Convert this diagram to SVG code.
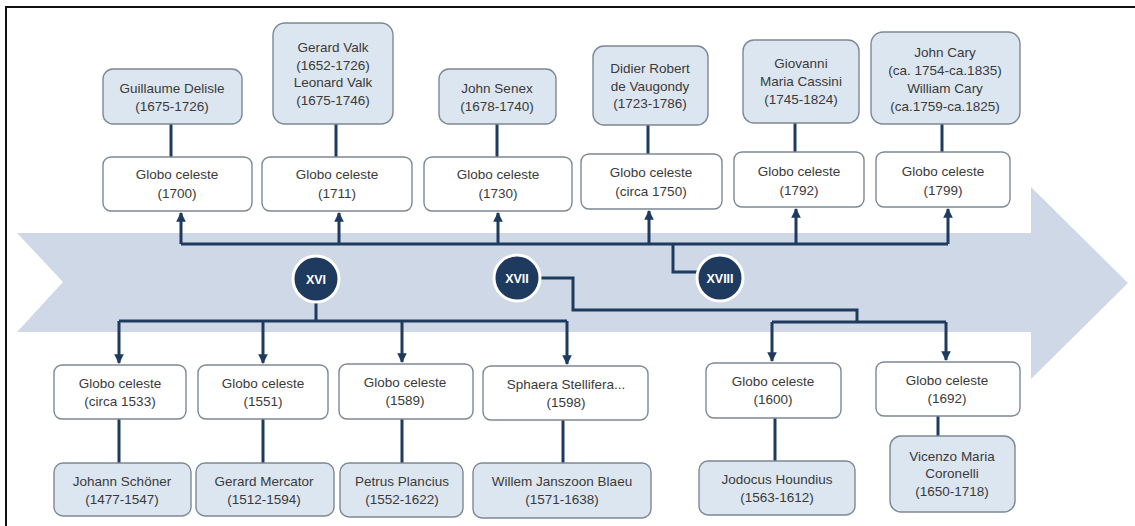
<svg xmlns="http://www.w3.org/2000/svg" width="1135" height="526" viewBox="0 0 1135 526">
<defs>
<style>
.bg{fill:#ffffff}
.band{fill:#cfd8e6}
.frame{stroke:#111;stroke-width:2;fill:none}
.p{fill:#dce6f1;stroke:#7d8894;stroke-width:1.4}
.g{fill:#ffffff;stroke:#7d8894;stroke-width:1.4}
.t{font-family:"Liberation Sans",Arial,sans-serif;font-size:13.5px;fill:#3a3a3a;text-anchor:middle}
.c{fill:#1f3a5f;stroke:#ffffff;stroke-width:3}
.ct{font-family:"Liberation Sans",Arial,sans-serif;font-size:12.5px;font-weight:bold;fill:#ffffff;text-anchor:middle}
.ln{stroke:#1f3a5f;stroke-width:3;fill:none}
</style>
<marker id="ah" viewBox="0 0 10 10" refX="9" refY="5" markerWidth="3.2" markerHeight="3.2" orient="auto" markerUnits="strokeWidth">
<path d="M0,0 L10,5 L0,10 z" fill="#1f3a5f"/>
</marker>
</defs>
<rect class="bg" x="0" y="0" width="1135" height="526"/>
<path class="frame" d="M6,526 V7 H1135"/>
<path class="band" d="M17,233 H1031 V187 L1128,283 L1031,379 V332 H17 L63,282 Z"/>

<g id="connectors">
<path class="ln" d="M181,244 H948"/>
<path class="ln" d="M181,244 V213" marker-end="url(#ah)"/>
<path class="ln" d="M339,244 V213" marker-end="url(#ah)"/>
<path class="ln" d="M498,244 V213" marker-end="url(#ah)"/>
<path class="ln" d="M649,244 V211" marker-end="url(#ah)"/>
<path class="ln" d="M796,244 V209" marker-end="url(#ah)"/>
<path class="ln" d="M948,244 V209" marker-end="url(#ah)"/>
<path class="ln" d="M171,124 V157"/>
<path class="ln" d="M336,124 V157"/>
<path class="ln" d="M497,124 V157"/>
<path class="ln" d="M648,125 V154"/>
<path class="ln" d="M795,123 V152"/>
<path class="ln" d="M942,124 V152"/>
<path class="ln" d="M673,244 V272 H698"/>
<path class="ln" d="M316,301 V321"/>
<path class="ln" d="M119,321 H567"/>
<path class="ln" d="M119,321 V363" marker-end="url(#ah)"/>
<path class="ln" d="M263,321 V363" marker-end="url(#ah)"/>
<path class="ln" d="M402,321 V362" marker-end="url(#ah)"/>
<path class="ln" d="M567,321 V364" marker-end="url(#ah)"/>
<path class="ln" d="M539,278 H573 V310 H857 V322"/>
<path class="ln" d="M772,322 H946"/>
<path class="ln" d="M772,322 V361" marker-end="url(#ah)"/>
<path class="ln" d="M946,322 V360" marker-end="url(#ah)"/>
<path class="ln" d="M119,419 V463"/>
<path class="ln" d="M263,419 V463"/>
<path class="ln" d="M402,419 V463"/>
<path class="ln" d="M563,420 V463"/>
<path class="ln" d="M775,418 V461"/>
<path class="ln" d="M938,416 V436"/>
</g>

<g id="c16"><circle class="c" cx="316" cy="279" r="23"/><text class="ct" x="316" y="284">XVI</text></g>
<g id="c17"><circle class="c" cx="517" cy="278" r="23"/><text class="ct" x="517" y="283">XVII</text></g>
<g id="c18"><circle class="c" cx="720" cy="278" r="23"/><text class="ct" x="720" y="283">XVIII</text></g>

<g id="p1"><rect class="p" x="103" y="69" width="139" height="55" rx="10"/><text class="t" x="172" y="93">Guillaume  Delisle</text><text class="t" x="172" y="111">(1675-1726)</text></g>
<g id="p2"><rect class="p" x="273" y="23" width="120" height="101" rx="12"/><text class="t" x="333" y="52">Gerard Valk</text><text class="t" x="333" y="70">(1652-1726)</text><text class="t" x="333" y="87">Leonard Valk</text><text class="t" x="333" y="105">(1675-1746)</text></g>
<g id="p3"><rect class="p" x="439" y="69" width="117" height="55" rx="10"/><text class="t" x="497" y="93">John Senex</text><text class="t" x="497" y="111">(1678-1740)</text></g>
<g id="p4"><rect class="p" x="593" y="46" width="115" height="79" rx="11"/><text class="t" x="650" y="73">Didier Robert</text><text class="t" x="650" y="91">de Vaugondy</text><text class="t" x="650" y="108">(1723-1786)</text></g>
<g id="p5"><rect class="p" x="743" y="40" width="116" height="83" rx="11"/><text class="t" x="801" y="68">Giovanni</text><text class="t" x="801" y="86">Maria Cassini</text><text class="t" x="801" y="104">(1745-1824)</text></g>
<g id="p6"><rect class="p" x="871" y="32" width="149" height="92" rx="12"/><text class="t" x="945" y="57">John Cary</text><text class="t" x="945" y="75">(ca. 1754-ca.1835)</text><text class="t" x="945" y="93">William  Cary</text><text class="t" x="945" y="111">(ca.1759-ca.1825)</text></g>

<g id="g1"><rect class="g" x="103" y="157" width="149" height="54" rx="8"/><text class="t" x="177" y="179">Globo celeste</text><text class="t" x="177" y="198">(1700)</text></g>
<g id="g2"><rect class="g" x="262" y="157" width="150" height="54" rx="8"/><text class="t" x="337" y="179">Globo celeste</text><text class="t" x="337" y="198">(1711)</text></g>
<g id="g3"><rect class="g" x="424" y="157" width="148" height="54" rx="8"/><text class="t" x="498" y="179">Globo celeste</text><text class="t" x="498" y="198">(1730)</text></g>
<g id="g4"><rect class="g" x="581" y="154" width="141" height="55" rx="8"/><text class="t" x="651" y="177">Globo celeste</text><text class="t" x="651" y="196">(circa 1750)</text></g>
<g id="g5"><rect class="g" x="734" y="152" width="130" height="55" rx="8"/><text class="t" x="799" y="176">Globo celeste</text><text class="t" x="799" y="195">(1792)</text></g>
<g id="g6"><rect class="g" x="876" y="152" width="134" height="55" rx="8"/><text class="t" x="943" y="176">Globo celeste</text><text class="t" x="943" y="195">(1799)</text></g>

<g id="b1"><rect class="g" x="54" y="365" width="132" height="54" rx="8"/><text class="t" x="120" y="388">Globo celeste</text><text class="t" x="120" y="406">(circa 1533)</text></g>
<g id="b2"><rect class="g" x="198" y="365" width="130" height="54" rx="8"/><text class="t" x="263" y="388">Globo celeste</text><text class="t" x="263" y="406">(1551)</text></g>
<g id="b3"><rect class="g" x="339" y="364" width="134" height="55" rx="8"/><text class="t" x="405" y="387">Globo celeste</text><text class="t" x="405" y="405">(1589)</text></g>
<g id="b4"><rect class="g" x="483" y="366" width="165" height="54" rx="8"/><text class="t" x="566" y="389">Sphaera Stellifera...</text><text class="t" x="566" y="407">(1598)</text></g>
<g id="b5"><rect class="g" x="706" y="363" width="135" height="55" rx="8"/><text class="t" x="773" y="386">Globo celeste</text><text class="t" x="773" y="404">(1600)</text></g>
<g id="b6"><rect class="g" x="876" y="362" width="144" height="54" rx="8"/><text class="t" x="947" y="385">Globo celeste</text><text class="t" x="947" y="403">(1692)</text></g>

<g id="q1"><rect class="p" x="54" y="463" width="137" height="53" rx="9"/><text class="t" x="122" y="486">Johann Schöner</text><text class="t" x="122" y="504">(1477-1547)</text></g>
<g id="q2"><rect class="p" x="196" y="463" width="138" height="53" rx="9"/><text class="t" x="264" y="486">Gerard Mercator</text><text class="t" x="264" y="504">(1512-1594)</text></g>
<g id="q3"><rect class="p" x="340" y="463" width="123" height="54" rx="9"/><text class="t" x="402" y="486">Petrus Plancius</text><text class="t" x="402" y="504">(1552-1622)</text></g>
<g id="q4"><rect class="p" x="473" y="463" width="178" height="55" rx="9"/><text class="t" x="562" y="486">Willem Janszoon Blaeu</text><text class="t" x="562" y="504">(1571-1638)</text></g>
<g id="q5"><rect class="p" x="699" y="461" width="156" height="54" rx="9"/><text class="t" x="777" y="484">Jodocus  Houndius</text><text class="t" x="777" y="502">(1563-1612)</text></g>
<g id="q6"><rect class="p" x="890" y="436" width="125" height="76" rx="11"/><text class="t" x="952" y="461">Vicenzo Maria</text><text class="t" x="952" y="478">Coronelli</text><text class="t" x="952" y="496">(1650-1718)</text></g>
</svg>
